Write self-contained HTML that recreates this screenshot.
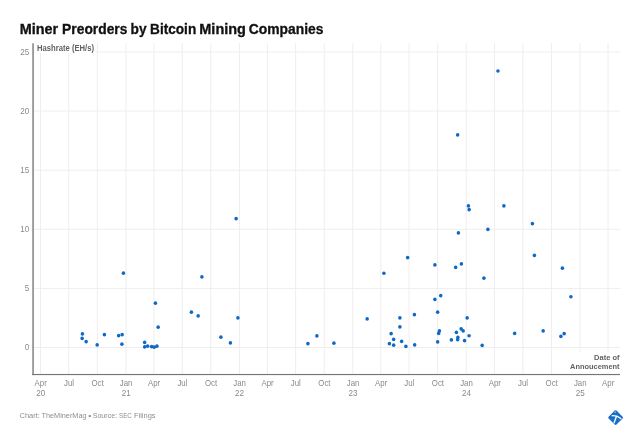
<!DOCTYPE html>
<html><head><meta charset="utf-8"><title>Miner Preorders by Bitcoin Mining Companies</title>
<style>
html,body{margin:0;padding:0;background:#fff;}
body{width:640px;height:440px;overflow:hidden;font-family:"Liberation Sans",sans-serif;}
svg{display:block;position:absolute;left:0;top:0;will-change:transform;}
text{font-family:"Liberation Sans",sans-serif;}
.t{font-size:9px;fill:#8a8a8a;text-anchor:middle;}
.y{font-size:9px;fill:#8a8a8a;text-anchor:end;}
.b{font-size:8.3px;font-weight:bold;fill:#626262;}
</style></head><body>
<svg width="640" height="440" viewBox="0 0 640 440">
<rect width="640" height="440" fill="#fff"/>

<text x="19.75" y="33.6" font-size="14.2" font-weight="bold" fill="#111" stroke="#111" stroke-width="0.3" textLength="38.45" lengthAdjust="spacingAndGlyphs">Miner</text>
<text x="62.10" y="33.6" font-size="14.2" font-weight="bold" fill="#111" stroke="#111" stroke-width="0.3" textLength="65.30" lengthAdjust="spacingAndGlyphs">Preorders</text>
<text x="130.60" y="33.6" font-size="14.2" font-weight="bold" fill="#111" stroke="#111" stroke-width="0.3" textLength="16.00" lengthAdjust="spacingAndGlyphs">by</text>
<text x="150.10" y="33.6" font-size="14.2" font-weight="bold" fill="#111" stroke="#111" stroke-width="0.3" textLength="46.10" lengthAdjust="spacingAndGlyphs">Bitcoin</text>
<text x="199.30" y="33.6" font-size="14.2" font-weight="bold" fill="#111" stroke="#111" stroke-width="0.3" textLength="46.65" lengthAdjust="spacingAndGlyphs">Mining</text>
<text x="248.80" y="33.6" font-size="14.2" font-weight="bold" fill="#111" stroke="#111" stroke-width="0.3" textLength="74.70" lengthAdjust="spacingAndGlyphs">Companies</text>
<g stroke="#eeeeee" stroke-width="1">
<line x1="40.50" y1="43" x2="40.50" y2="374"/>
<line x1="68.78" y1="43" x2="68.78" y2="374"/>
<line x1="97.37" y1="43" x2="97.37" y2="374"/>
<line x1="125.97" y1="43" x2="125.97" y2="374"/>
<line x1="153.94" y1="43" x2="153.94" y2="374"/>
<line x1="182.22" y1="43" x2="182.22" y2="374"/>
<line x1="210.81" y1="43" x2="210.81" y2="374"/>
<line x1="239.41" y1="43" x2="239.41" y2="374"/>
<line x1="267.38" y1="43" x2="267.38" y2="374"/>
<line x1="295.66" y1="43" x2="295.66" y2="374"/>
<line x1="324.25" y1="43" x2="324.25" y2="374"/>
<line x1="352.84" y1="43" x2="352.84" y2="374"/>
<line x1="380.82" y1="43" x2="380.82" y2="374"/>
<line x1="409.10" y1="43" x2="409.10" y2="374"/>
<line x1="437.69" y1="43" x2="437.69" y2="374"/>
<line x1="466.28" y1="43" x2="466.28" y2="374"/>
<line x1="494.56" y1="43" x2="494.56" y2="374"/>
<line x1="522.85" y1="43" x2="522.85" y2="374"/>
<line x1="551.44" y1="43" x2="551.44" y2="374"/>
<line x1="580.03" y1="43" x2="580.03" y2="374"/>
<line x1="608.00" y1="43" x2="608.00" y2="374"/>
<line x1="34" y1="347.50" x2="620" y2="347.50"/>
<line x1="34" y1="288.40" x2="620" y2="288.40"/>
<line x1="34" y1="229.30" x2="620" y2="229.30"/>
<line x1="34" y1="170.20" x2="620" y2="170.20"/>
<line x1="34" y1="111.10" x2="620" y2="111.10"/>
<line x1="34" y1="52.00" x2="620" y2="52.00"/>
</g>
<rect x="35" y="44" width="61" height="9" fill="#fff"/>
<rect x="568.5" y="352" width="52" height="21.5" fill="#fff"/>
<rect x="32.2" y="43.3" width="1.75" height="331.8" fill="#949494"/>
<rect x="32.2" y="373.95" width="587.8" height="1.15" fill="#757575"/>
<text class="b" x="37" y="50.7" textLength="57" lengthAdjust="spacingAndGlyphs">Hashrate (EH/s)</text>
<text class="b" style="font-size:7.8px" x="594.1" y="359.8" textLength="25.5" lengthAdjust="spacingAndGlyphs">Date of</text>
<text class="b" style="font-size:7.8px" x="570.1" y="369.1" textLength="49.5" lengthAdjust="spacingAndGlyphs">Annoucement</text>
<text class="y" transform="translate(29.2 350.20) scale(0.9 1)">0</text>
<text class="y" transform="translate(29.2 291.10) scale(0.9 1)">5</text>
<text class="y" transform="translate(29.2 232.00) scale(0.9 1)">10</text>
<text class="y" transform="translate(29.2 172.90) scale(0.9 1)">15</text>
<text class="y" transform="translate(29.2 113.80) scale(0.9 1)">20</text>
<text class="y" transform="translate(29.2 54.70) scale(0.9 1)">25</text>
<text class="t" transform="translate(40.70 386) scale(0.87 1)">Apr</text>
<text class="t" transform="translate(40.70 396) scale(0.9 1)">20</text>
<text class="t" transform="translate(68.98 386) scale(0.87 1)">Jul</text>
<text class="t" transform="translate(97.57 386) scale(0.87 1)">Oct</text>
<text class="t" transform="translate(126.17 386) scale(0.87 1)">Jan</text>
<text class="t" transform="translate(126.17 396) scale(0.9 1)">21</text>
<text class="t" transform="translate(154.14 386) scale(0.87 1)">Apr</text>
<text class="t" transform="translate(182.42 386) scale(0.87 1)">Jul</text>
<text class="t" transform="translate(211.01 386) scale(0.87 1)">Oct</text>
<text class="t" transform="translate(239.61 386) scale(0.87 1)">Jan</text>
<text class="t" transform="translate(239.61 396) scale(0.9 1)">22</text>
<text class="t" transform="translate(267.58 386) scale(0.87 1)">Apr</text>
<text class="t" transform="translate(295.86 386) scale(0.87 1)">Jul</text>
<text class="t" transform="translate(324.45 386) scale(0.87 1)">Oct</text>
<text class="t" transform="translate(353.04 386) scale(0.87 1)">Jan</text>
<text class="t" transform="translate(353.04 396) scale(0.9 1)">23</text>
<text class="t" transform="translate(381.02 386) scale(0.87 1)">Apr</text>
<text class="t" transform="translate(409.30 386) scale(0.87 1)">Jul</text>
<text class="t" transform="translate(437.89 386) scale(0.87 1)">Oct</text>
<text class="t" transform="translate(466.48 386) scale(0.87 1)">Jan</text>
<text class="t" transform="translate(466.48 396) scale(0.9 1)">24</text>
<text class="t" transform="translate(494.76 386) scale(0.87 1)">Apr</text>
<text class="t" transform="translate(523.05 386) scale(0.87 1)">Jul</text>
<text class="t" transform="translate(551.64 386) scale(0.87 1)">Oct</text>
<text class="t" transform="translate(580.23 386) scale(0.87 1)">Jan</text>
<text class="t" transform="translate(580.23 396) scale(0.9 1)">25</text>
<text class="t" transform="translate(608.20 386) scale(0.87 1)">Apr</text>
<g fill="#0e69c6">
<circle cx="123.40" cy="273.15" r="1.78"/>
<circle cx="155.40" cy="303.15" r="1.78"/>
<circle cx="158.15" cy="327.15" r="1.78"/>
<circle cx="82.40" cy="333.90" r="1.78"/>
<circle cx="82.15" cy="338.40" r="1.78"/>
<circle cx="86.15" cy="341.65" r="1.78"/>
<circle cx="97.15" cy="344.90" r="1.78"/>
<circle cx="104.40" cy="334.65" r="1.78"/>
<circle cx="118.65" cy="335.65" r="1.78"/>
<circle cx="122.15" cy="334.65" r="1.78"/>
<circle cx="121.90" cy="344.15" r="1.78"/>
<circle cx="144.65" cy="342.40" r="1.78"/>
<circle cx="144.65" cy="346.90" r="1.78"/>
<circle cx="147.65" cy="346.15" r="1.78"/>
<circle cx="151.65" cy="346.65" r="1.78"/>
<circle cx="154.15" cy="347.15" r="1.78"/>
<circle cx="156.90" cy="346.15" r="1.78"/>
<circle cx="236.15" cy="218.65" r="1.78"/>
<circle cx="201.90" cy="276.90" r="1.78"/>
<circle cx="191.40" cy="312.15" r="1.78"/>
<circle cx="198.15" cy="315.90" r="1.78"/>
<circle cx="237.90" cy="317.90" r="1.78"/>
<circle cx="220.90" cy="337.15" r="1.78"/>
<circle cx="230.40" cy="342.90" r="1.78"/>
<circle cx="307.90" cy="343.65" r="1.78"/>
<circle cx="316.90" cy="335.90" r="1.78"/>
<circle cx="333.90" cy="343.15" r="1.78"/>
<circle cx="367.15" cy="318.90" r="1.78"/>
<circle cx="383.90" cy="273.25" r="1.78"/>
<circle cx="399.90" cy="317.90" r="1.78"/>
<circle cx="399.90" cy="326.90" r="1.78"/>
<circle cx="391.15" cy="333.65" r="1.78"/>
<circle cx="393.65" cy="339.40" r="1.78"/>
<circle cx="389.40" cy="343.65" r="1.78"/>
<circle cx="393.65" cy="345.15" r="1.78"/>
<circle cx="401.65" cy="341.40" r="1.78"/>
<circle cx="405.90" cy="346.40" r="1.78"/>
<circle cx="414.65" cy="344.90" r="1.78"/>
<circle cx="414.40" cy="314.65" r="1.78"/>
<circle cx="434.90" cy="299.40" r="1.78"/>
<circle cx="440.75" cy="295.65" r="1.78"/>
<circle cx="437.65" cy="312.15" r="1.78"/>
<circle cx="439.40" cy="330.90" r="1.78"/>
<circle cx="438.65" cy="333.40" r="1.78"/>
<circle cx="437.65" cy="341.90" r="1.78"/>
<circle cx="451.40" cy="339.90" r="1.78"/>
<circle cx="456.40" cy="332.40" r="1.78"/>
<circle cx="457.90" cy="337.40" r="1.78"/>
<circle cx="457.65" cy="339.65" r="1.78"/>
<circle cx="461.15" cy="328.90" r="1.78"/>
<circle cx="463.15" cy="330.90" r="1.78"/>
<circle cx="464.55" cy="340.65" r="1.78"/>
<circle cx="467.15" cy="317.90" r="1.78"/>
<circle cx="469.05" cy="335.75" r="1.78"/>
<circle cx="483.90" cy="278.15" r="1.78"/>
<circle cx="482.15" cy="345.40" r="1.78"/>
<circle cx="514.65" cy="333.40" r="1.78"/>
<circle cx="543.15" cy="330.90" r="1.78"/>
<circle cx="560.90" cy="336.40" r="1.78"/>
<circle cx="564.15" cy="333.65" r="1.78"/>
<circle cx="570.90" cy="296.75" r="1.78"/>
<circle cx="407.65" cy="257.65" r="1.78"/>
<circle cx="434.90" cy="264.90" r="1.78"/>
<circle cx="455.65" cy="267.40" r="1.78"/>
<circle cx="461.40" cy="263.90" r="1.78"/>
<circle cx="458.40" cy="232.90" r="1.78"/>
<circle cx="468.40" cy="205.90" r="1.78"/>
<circle cx="469.15" cy="209.65" r="1.78"/>
<circle cx="487.90" cy="229.40" r="1.78"/>
<circle cx="503.90" cy="205.90" r="1.78"/>
<circle cx="497.95" cy="71.05" r="1.78"/>
<circle cx="457.65" cy="134.90" r="1.78"/>
<circle cx="532.40" cy="223.65" r="1.78"/>
<circle cx="534.40" cy="255.40" r="1.78"/>
<circle cx="562.40" cy="268.15" r="1.78"/>
</g>
<text x="19.60" y="418.2" font-size="8" fill="#8e8e8e" textLength="20.30" lengthAdjust="spacingAndGlyphs">Chart:</text>
<text x="41.50" y="418.2" font-size="8" fill="#8e8e8e" textLength="45.10" lengthAdjust="spacingAndGlyphs">TheMinerMag</text>
<text x="88.25" y="418.2" font-size="8" fill="#8e8e8e" textLength="3.25" lengthAdjust="spacingAndGlyphs">•</text>
<text x="92.70" y="418.2" font-size="8" fill="#8e8e8e" textLength="24.45" lengthAdjust="spacingAndGlyphs">Source:</text>
<text x="119.00" y="418.2" font-size="8" fill="#8e8e8e" textLength="12.75" lengthAdjust="spacingAndGlyphs">SEC</text>
<text x="134.00" y="418.2" font-size="8" fill="#8e8e8e" textLength="21.50" lengthAdjust="spacingAndGlyphs">Filings</text>
<g transform="translate(615.6 417.6)">
<rect x="-5.6" y="-5.6" width="11.2" height="11.2" rx="1.3" transform="rotate(45)" fill="#1a6fc4"/>
<path d="M-3.4 -1.9 Q1.2 -2.6 5.2 0.9" stroke="#fff" stroke-width="1.35" fill="none" stroke-linecap="round"/>
<path d="M0.8 -1.2 L-1.5 5.2" stroke="#fff" stroke-width="1.35" fill="none" stroke-linecap="round"/>
<circle cx="-0.4" cy="-5.4" r="0.9" fill="#fff" fill-opacity="0.45"/>
</g>
</svg></body></html>
